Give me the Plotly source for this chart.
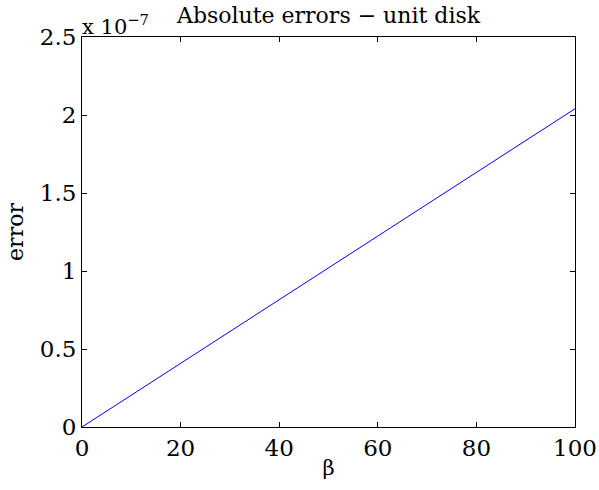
import plotly.graph_objects as go

beta = [0, 20, 40, 60, 80, 100]
error = [0.0, 0.408e-7, 0.816e-7, 1.224e-7, 1.632e-7, 2.04e-7]

x_ticks = [0, 20, 40, 60, 80, 100]
y_ticks = [0, 0.5e-7, 1e-7, 1.5e-7, 2e-7, 2.5e-7]
y_ticktext = ["0", "0.5", "1", "1.5", "2", "2.5"]

FONT = "DejaVu Serif"
FS = 23

fig = go.Figure()
fig.add_trace(go.Scatter(x=beta, y=error, mode="lines",
                         line=dict(color="rgb(0,0,255)", width=1),
                         showlegend=False, hoverinfo="skip"))

axis_common = dict(showline=True, linecolor="black", linewidth=1,
                   mirror="ticks", ticks="inside", ticklen=5, tickwidth=1,
                   tickcolor="black", showgrid=False, zeroline=False,
                   automargin=False,
                   tickfont=dict(family=FONT, size=FS, color="black"))

fig.update_xaxes(range=[0, 100], tickvals=x_ticks, **axis_common,
                 title=dict(text="β", font=dict(family=FONT, size=FS - 2, color="black"), standoff=0))
fig.update_yaxes(range=[0, 2.5e-7], tickvals=y_ticks, ticktext=y_ticktext, **axis_common,
                 title=dict(text="error", font=dict(family=FONT, size=FS - 1, color="black"), standoff=10))

fig.add_annotation(text="x 10<sup>−7</sup>", xref="paper", yref="paper", x=0, y=1,
                   xanchor="left", yanchor="bottom", showarrow=False, yshift=-4,
                   xshift=-2, font=dict(family=FONT, size=FS - 2, color="black"))
fig.add_annotation(text="Absolute errors − unit disk", xref="paper", yref="paper",
                   x=0.5, y=1, xanchor="center", yanchor="bottom", showarrow=False,
                   yshift=7, font=dict(family=FONT, size=FS - 1, color="black"))

fig.update_layout(width=599, height=490, margin=dict(l=82, r=24, t=37, b=63),
                  plot_bgcolor="white", paper_bgcolor="white",
                  font=dict(family=FONT, color="black"))

fig.write_html("out.html")
